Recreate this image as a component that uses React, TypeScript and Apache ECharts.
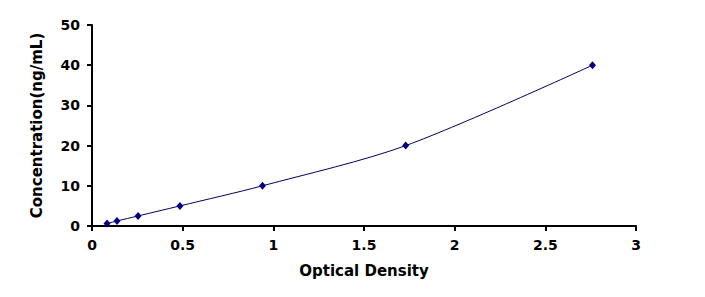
import React, { useEffect, useRef } from "react";
import * as echarts from "echarts";

const opticalDensity = [0.083, 0.138, 0.254, 0.485, 0.94, 1.73, 2.76];
const concentration = [0.625, 1.25, 2.5, 5, 10, 20, 40];
const xTitle = "Optical Density";
const yTitle = "Concentration(ng/mL)";

export default function App() {
  const ref = useRef<HTMLDivElement>(null);
  useEffect(() => {
    const chart = echarts.init(ref.current!, null, { renderer: "svg" });
    const font = { fontFamily: "DejaVu Sans, sans-serif", fontWeight: "bold" as const, fontSize: 14, color: "#000" };
    chart.setOption({
      animation: false,
      backgroundColor: "#fff",
      grid: { left: 92, top: 25, width: 544, height: 201, containLabel: false },
      xAxis: {
        type: "value",
        min: 0,
        max: 3,
        interval: 0.5,
        name: xTitle,
        nameLocation: "middle",
        nameGap: 37,
        nameTextStyle: { ...font, fontSize: 15 },
        axisLine: { show: true, onZero: false, lineStyle: { color: "#000", width: 2 } },
        axisTick: { show: true, length: 5, lineStyle: { color: "#000", width: 2 } },
        axisLabel: { ...font, margin: 12 },
        splitLine: { show: false },
      },
      yAxis: {
        type: "value",
        min: 0,
        max: 50,
        interval: 10,
        name: yTitle,
        nameLocation: "middle",
        nameGap: 48,
        nameTextStyle: { ...font, fontSize: 15 },
        axisLine: { show: true, lineStyle: { color: "#000", width: 2 } },
        axisTick: { show: true, length: 5, lineStyle: { color: "#000", width: 2 } },
        axisLabel: { ...font, margin: 12 },
        splitLine: { show: false },
      },
      series: [
        {
          type: "line",
          data: opticalDensity.map((x, i) => [x, concentration[i]]),
          smooth: 0.3,
          symbol: "diamond",
          symbolSize: [7, 8],
          itemStyle: { color: "#000080" },
          lineStyle: { color: "#000060", width: 1 },
        },
      ],
    });
    return () => chart.dispose();
  }, []);
  return (
    <div
      ref={ref}
      style={{ position: "fixed", left: 0, top: 0, width: 705, height: 297 }}
    />
  );
}
